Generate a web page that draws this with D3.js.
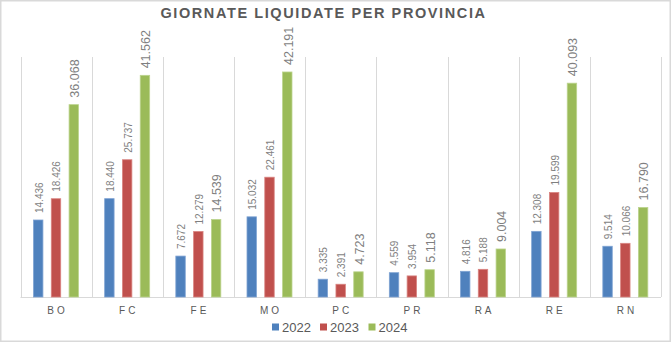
<!DOCTYPE html>
<html>
<head>
<meta charset="utf-8">
<script src="https://cdn.jsdelivr.net/npm/d3@7/dist/d3.min.js"></script>
<style>
  html, body { margin: 0; padding: 0; background: #fff; }
  svg { display: block; font-family: "Liberation Sans", Arial, sans-serif; }
</style>
</head>
<body>
<svg id="chart" width="671" height="343"></svg>
<script>
const title = "GIORNATE LIQUIDATE PER PROVINCIA";
const categories = ["BO", "FC", "FE", "MO", "PC", "PR", "RA", "RE", "RN"];
const seriesNames = ["2022", "2023", "2024"];
const values2022 = [14436, 18440, 7672, 15032, 3335, 4559, 4816, 12308, 9514];
const values2023 = [18426, 25737, 12279, 22461, 2391, 3954, 5188, 19599, 10066];
const values2024 = [36068, 41562, 14539, 42191, 4723, 5118, 9004, 40093, 16790];
const colors = ["#4F81BD", "#C0504D", "#9BBB59"];
const strokes = ["#7FA3D3", "#D98481", "#BCD48E"];
const yMax = 45000;

const series = [values2022, values2023, values2024];
const fmt = v => d3.format(",")(v).replace(/,/g, ".");

const svg = d3.select("#chart");
const W = 671, H = 343;

// outer border
svg.append("rect").attr("x", 0.75).attr("y", 0.75).attr("width", W - 1.5).attr("height", H - 2.5)
  .attr("fill", "#fff").attr("stroke", "#d9d9d9").attr("stroke-width", 1.5);

const x0 = d3.scaleBand().domain(categories).range([20.5, 661]).paddingInner(0).paddingOuter(0);
const x1 = d3.scaleBand().domain(seriesNames).range([13, 58]).paddingInner(0.47).paddingOuter(0);
const y = d3.scaleLinear().domain([0, yMax]).range([297, 57]);

// vertical gridlines at category boundaries
const bounds = categories.map(c => x0(c)).concat([x0.range()[1]]);
svg.append("g").selectAll("line").data(bounds).join("line")
  .attr("x1", d => Math.round(d) + 0.5).attr("x2", d => Math.round(d) + 0.5)
  .attr("y1", y(yMax)).attr("y2", y(0))
  .attr("stroke", "#d9d9d9").attr("stroke-width", 1);

// baseline axis
svg.append("line").attr("x1", x0.range()[0]).attr("x2", x0.range()[1])
  .attr("y1", y(0) + 0.5).attr("y2", y(0) + 0.5)
  .attr("stroke", "#d9d9d9").attr("stroke-width", 1);

// bars
const g = svg.append("g");
categories.forEach((c, i) => {
  series.forEach((s, j) => {
    const bx = x0(c) + x1(seriesNames[j]);
    const bw = x1.bandwidth();
    g.append("rect")
      .attr("x", bx).attr("y", y(s[i]))
      .attr("width", bw).attr("height", y(0) - y(s[i]))
      .attr("fill", colors[j]).attr("stroke", strokes[j]).attr("stroke-width", 0.8);
    const fs = j === 2 ? 12.5 : 10;
    const cx = bx + bw / 2 + 0.8;
    const ty = y(s[i]) - 7;
    g.append("text")
      .attr("transform", `translate(${cx + fs * 0.36},${ty}) rotate(-90)`)
      .attr("text-anchor", "start")
      .attr("font-size", fs)
      .attr("fill", "#7f7f7f")
      .text(fmt(s[i]));
  });
});

// category labels
const xAxis = d3.axisBottom(x0).tickSize(0).tickPadding(0);
const ax = svg.append("g").attr("transform", `translate(0,${y(0)})`).call(xAxis);
ax.select(".domain").remove();
ax.selectAll("text")
  .attr("font-family", "Liberation Sans, Arial, sans-serif")
  .attr("font-size", 10)
  .attr("fill", "#595959")
  .attr("letter-spacing", "3px")
  .attr("dx", 1.5)
  .attr("dy", 0)
  .attr("y", 17);

// title
svg.append("text").attr("x", 323.5).attr("y", 18)
  .attr("text-anchor", "middle")
  .attr("font-size", 14.5).attr("font-weight", "bold")
  .attr("letter-spacing", "1.6px")
  .attr("fill", "#595959")
  .text(title);

// legend
const legendX = [272, 320, 368.5];
const leg = svg.append("g");
seriesNames.forEach((n, j) => {
  leg.append("rect").attr("x", legendX[j]).attr("y", 323.5).attr("width", 7).attr("height", 7)
    .attr("fill", colors[j]);
  leg.append("text").attr("x", legendX[j] + 10).attr("y", 331.5)
    .attr("font-size", 13).attr("fill", "#595959")
    .text(n);
});
</script>
</body>
</html>
